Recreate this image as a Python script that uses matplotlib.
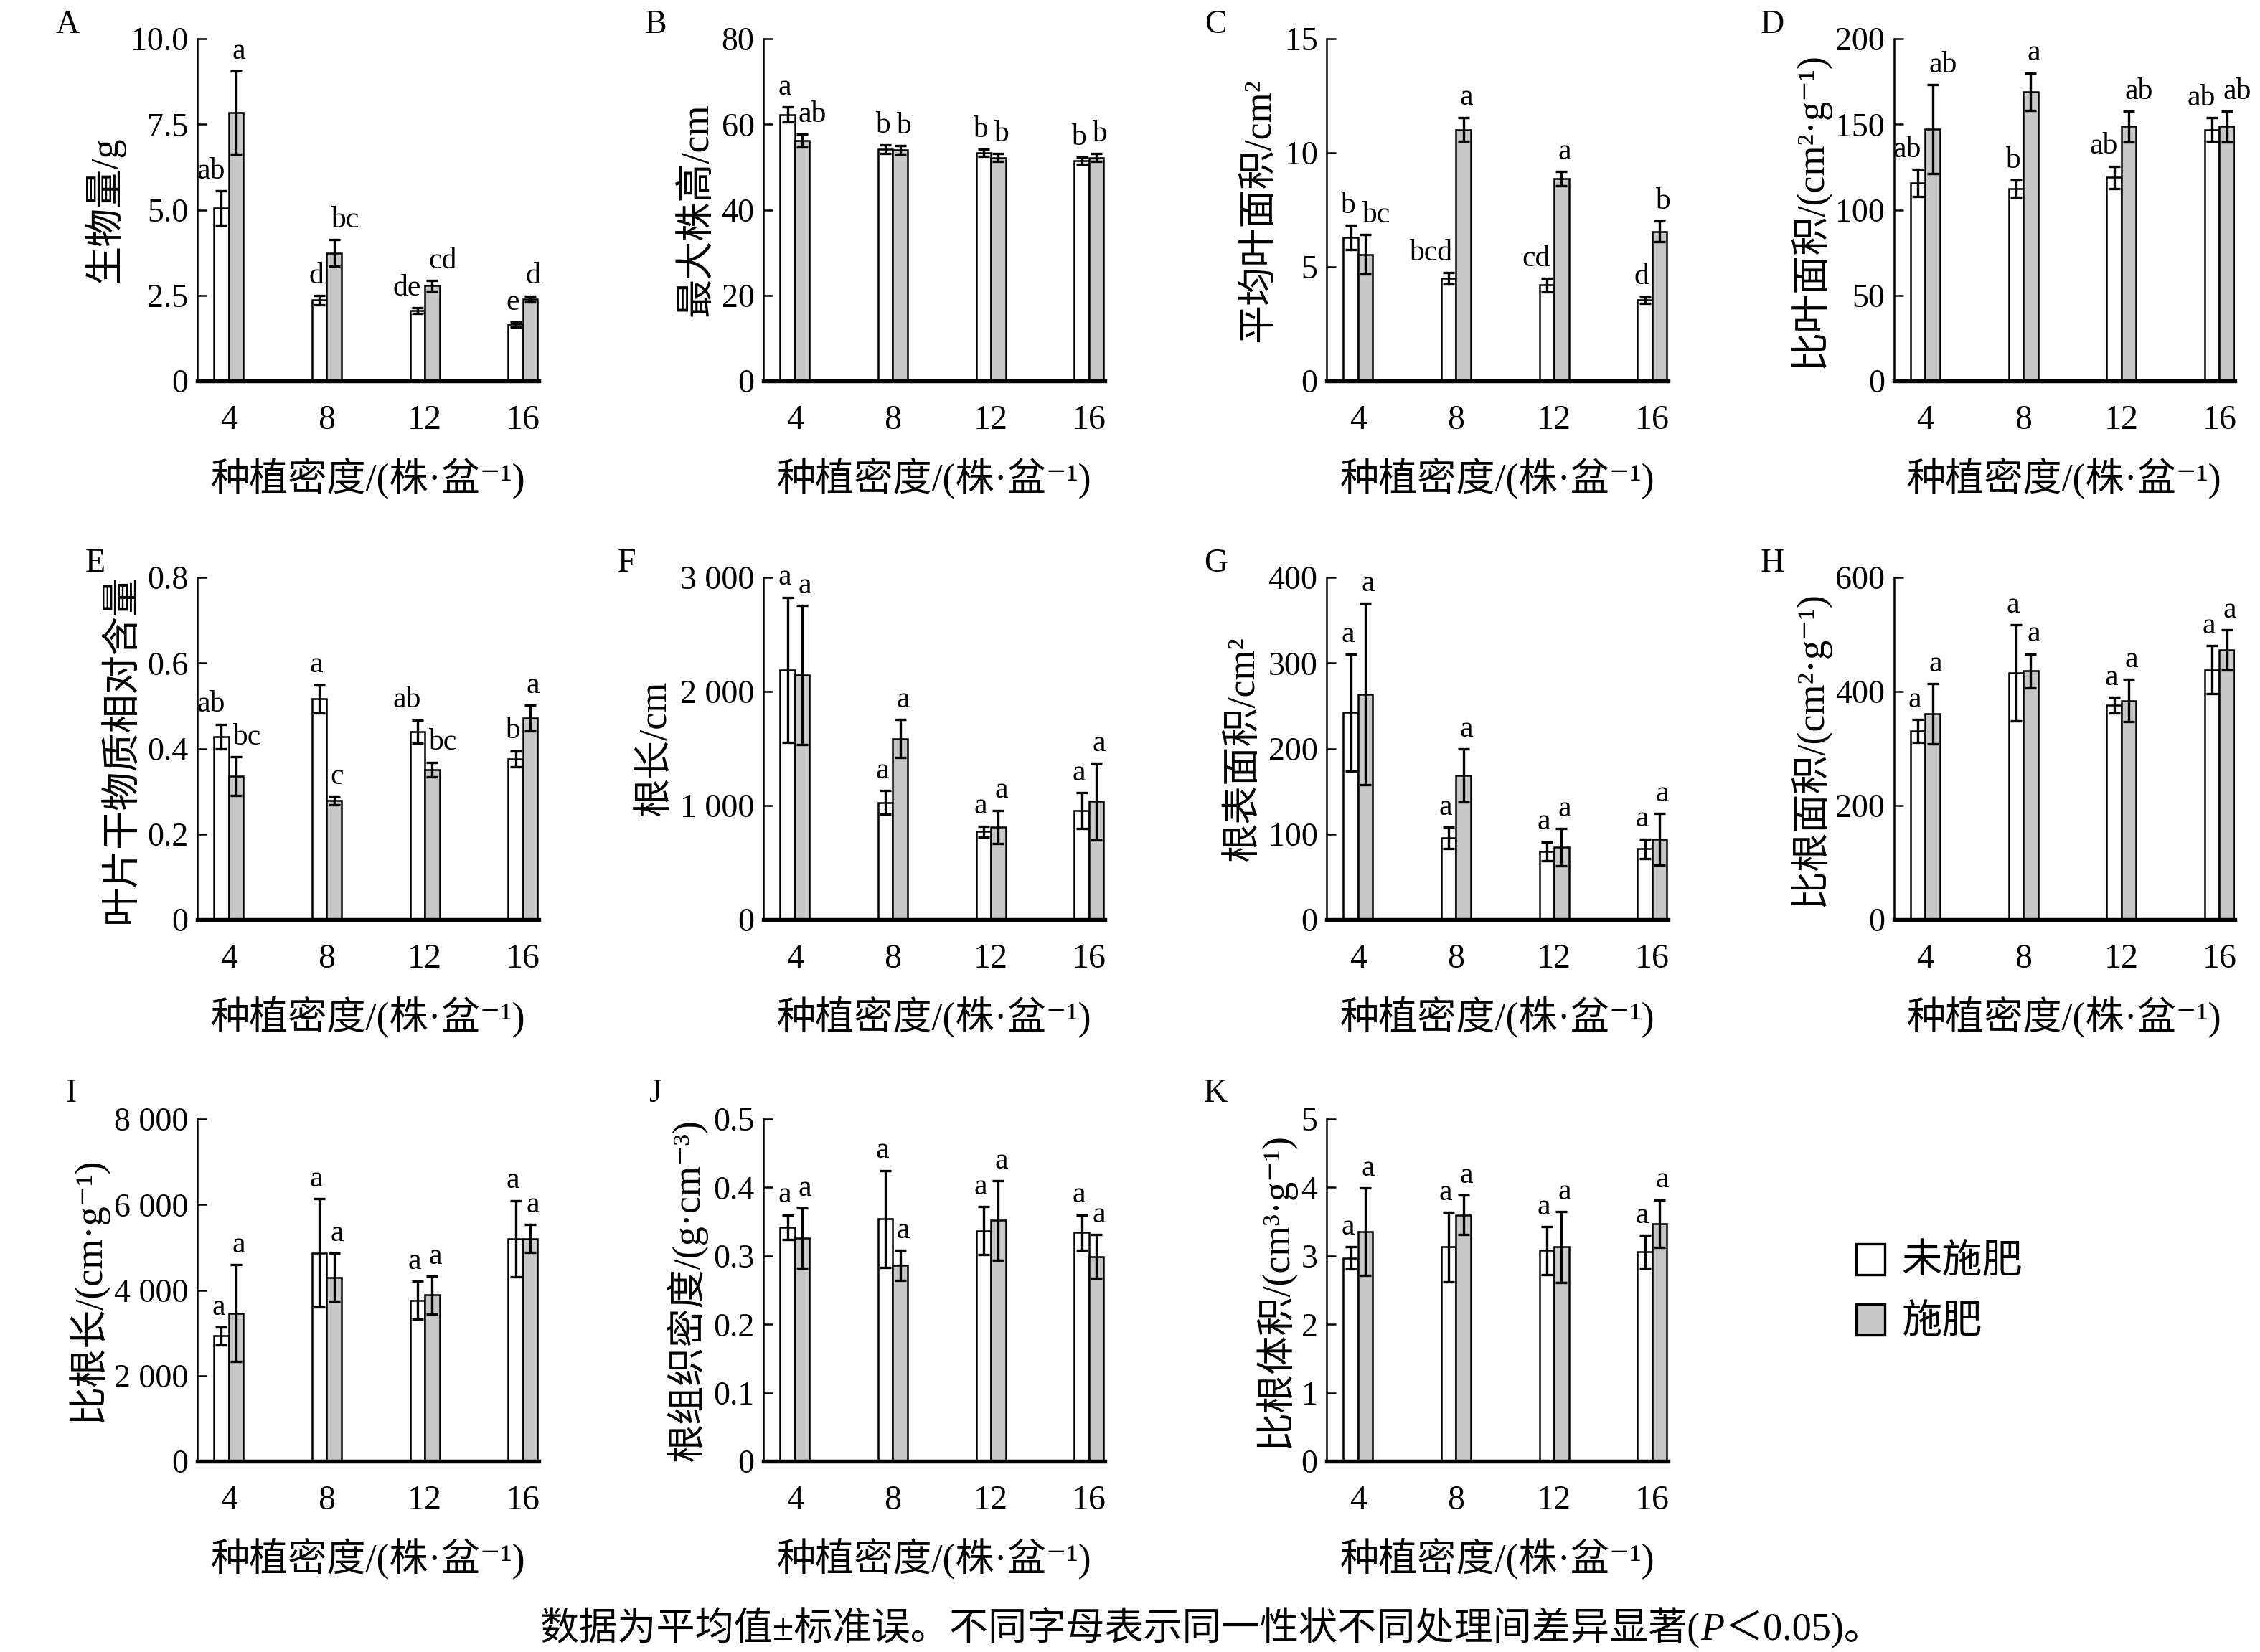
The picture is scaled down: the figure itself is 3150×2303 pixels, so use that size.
import matplotlib
matplotlib.use('Agg')
import matplotlib.pyplot as plt
from matplotlib.patches import Patch
from matplotlib.offsetbox import TextArea, HPacker, AnchoredOffsetbox
import numpy as np

plt.rcParams['font.family'] = ['Liberation Serif', 'Noto Sans CJK SC', 'DejaVu Sans']

# planting density groups
density = ['4', '8', '12', '16']

# A biomass
A_ctrl = [5.05, 2.36, 2.05, 1.65]
A_ctrl_se = [0.50, 0.13, 0.08, 0.07]
A_fert = [7.84, 3.74, 2.78, 2.39]
A_fert_se = [1.22, 0.38, 0.16, 0.09]
A_ctrl_sig = ['ab', 'd', 'de', 'e']
A_fert_sig = ['a', 'bc', 'cd', 'd']

# B max plant height
B_ctrl = [62.3, 54.2, 53.3, 51.5]
B_ctrl_se = [1.7, 1.0, 0.8, 0.8]
B_fert = [56.2, 54.0, 52.2, 52.2]
B_fert_se = [1.5, 1.0, 0.9, 0.9]
B_ctrl_sig = ['a', 'b', 'b', 'b']
B_fert_sig = ['ab', 'b', 'b', 'b']

# C mean leaf area
C_ctrl = [6.3, 4.5, 4.2, 3.54]
C_ctrl_se = [0.53, 0.25, 0.3, 0.15]
C_fert = [5.55, 11.02, 8.86, 6.55]
C_fert_se = [0.87, 0.53, 0.32, 0.45]
C_ctrl_sig = ['b', 'bcd', 'cd', 'd']
C_fert_sig = ['bc', 'a', 'a', 'b']

# D specific leaf area
D_ctrl = [115.8, 112.3, 119.0, 146.9]
D_ctrl_se = [8, 5, 6.5, 7]
D_fert = [147.1, 169.0, 148.7, 148.7]
D_fert_se = [26, 11, 9, 9]
D_ctrl_sig = ['ab', 'b', 'ab', 'ab']
D_fert_sig = ['ab', 'a', 'ab', 'ab']

# E leaf dry matter content
E_ctrl = [0.428, 0.516, 0.44, 0.376]
E_ctrl_se = [0.029, 0.033, 0.027, 0.019]
E_fert = [0.335, 0.278, 0.351, 0.472]
E_fert_se = [0.045, 0.01, 0.017, 0.03]
E_ctrl_sig = ['ab', 'a', 'ab', 'b']
E_fert_sig = ['bc', 'c', 'bc', 'a']

# F root length
F_ctrl = [2190, 1027, 771, 955]
F_ctrl_se = [636, 103, 50, 158]
F_fert = [2143, 1588, 811, 1035]
F_fert_se = [610, 168, 147, 335]
F_ctrl_sig = ['a', 'a', 'a', 'a']
F_fert_sig = ['a', 'a', 'a', 'a']

# G root surface area
G_ctrl = [242, 95.4, 80, 82.7]
G_ctrl_se = [68, 12.5, 11, 11.5]
G_fert = [263.5, 168.5, 84.6, 93.8]
G_fert_se = [106, 31, 22, 30]
G_ctrl_sig = ['a', 'a', 'a', 'a']
G_fert_sig = ['a', 'a', 'a', 'a']

# H specific root area
H_ctrl = [331, 433, 376, 438]
H_ctrl_se = [20, 84, 14, 42]
H_fert = [361, 436, 384, 473]
H_fert_se = [53, 30, 37, 35]
H_ctrl_sig = ['a', 'a', 'a', 'a']
H_fert_sig = ['a', 'a', 'a', 'a']

# I specific root length
I_ctrl = [2930, 4870, 3763, 5204]
I_ctrl_se = [205, 1270, 440, 890]
I_fert = [3460, 4300, 3886, 5204]
I_fert_se = [1130, 560, 440, 330]
I_ctrl_sig = ['a', 'a', 'a', 'a']
I_fert_sig = ['a', 'a', 'a', 'a']

# J root tissue density
J_ctrl = [0.342, 0.354, 0.337, 0.334]
J_ctrl_se = [0.018, 0.071, 0.035, 0.026]
J_fert = [0.326, 0.286, 0.352, 0.299]
J_fert_se = [0.044, 0.022, 0.058, 0.032]
J_ctrl_sig = ['a', 'a', 'a', 'a']
J_fert_sig = ['a', 'a', 'a', 'a']

# K specific root volume
K_ctrl = [2.97, 3.13, 3.08, 3.06]
K_ctrl_se = [0.16, 0.51, 0.35, 0.24]
K_fert = [3.35, 3.60, 3.13, 3.47]
K_fert_se = [0.64, 0.29, 0.52, 0.35]
K_ctrl_sig = ['a', 'a', 'a', 'a']
K_fert_sig = ['a', 'a', 'a', 'a']

ylabels = ['生物量/g', '最大株高/cm', '平均叶面积/cm²', '比叶面积/(cm²·g⁻¹)',
           '叶片干物质相对含量', '根长/cm', '根表面积/cm²', '比根面积/(cm²·g⁻¹)',
           '比根长/(cm·g⁻¹)', '根组织密度/(g·cm⁻³)', '比根体积/(cm³·g⁻¹)']
yticks = [[0, 2.5, 5, 7.5, 10], [0, 20, 40, 60, 80], [0, 5, 10, 15], [0, 50, 100, 150, 200],
          [0, 0.2, 0.4, 0.6, 0.8], [0, 1000, 2000, 3000], [0, 100, 200, 300, 400], [0, 200, 400, 600],
          [0, 2000, 4000, 6000, 8000], [0, 0.1, 0.2, 0.3, 0.4, 0.5], [0, 1, 2, 3, 4, 5]]
ytick_labels = [['0', '2.5', '5.0', '7.5', '10.0'], ['0', '20', '40', '60', '80'], ['0', '5', '10', '15'],
                ['0', '50', '100', '150', '200'], ['0', '0.2', '0.4', '0.6', '0.8'],
                ['0', '1 000', '2 000', '3 000'], ['0', '100', '200', '300', '400'], ['0', '200', '400', '600'],
                ['0', '2 000', '4 000', '6 000', '8 000'], ['0', '0.1', '0.2', '0.3', '0.4', '0.5'],
                ['0', '1', '2', '3', '4', '5']]
letters = ['A', 'B', 'C', 'D', 'E', 'F', 'G', 'H', 'I', 'J', 'K']

panels = [
    (A_ctrl, A_ctrl_se, A_fert, A_fert_se, A_ctrl_sig, A_fert_sig),
    (B_ctrl, B_ctrl_se, B_fert, B_fert_se, B_ctrl_sig, B_fert_sig),
    (C_ctrl, C_ctrl_se, C_fert, C_fert_se, C_ctrl_sig, C_fert_sig),
    (D_ctrl, D_ctrl_se, D_fert, D_fert_se, D_ctrl_sig, D_fert_sig),
    (E_ctrl, E_ctrl_se, E_fert, E_fert_se, E_ctrl_sig, E_fert_sig),
    (F_ctrl, F_ctrl_se, F_fert, F_fert_se, F_ctrl_sig, F_fert_sig),
    (G_ctrl, G_ctrl_se, G_fert, G_fert_se, G_ctrl_sig, G_fert_sig),
    (H_ctrl, H_ctrl_se, H_fert, H_fert_se, H_ctrl_sig, H_fert_sig),
    (I_ctrl, I_ctrl_se, I_fert, I_fert_se, I_ctrl_sig, I_fert_sig),
    (J_ctrl, J_ctrl_se, J_fert, J_fert_se, J_ctrl_sig, J_fert_sig),
    (K_ctrl, K_ctrl_se, K_fert, K_fert_se, K_ctrl_sig, K_fert_sig),
]

gray = '#c8c8c8'
fig = plt.figure(figsize=(10.5, 7.677), dpi=300)

col_left = [0.0873, 0.3378, 0.587, 0.838]
row_bottom = [0.7694, 0.4433, 0.1155]
ax_w, ax_h = 0.151, 0.2071
letter_x = [-0.38, -0.315, -0.325, -0.357, -0.30, -0.40, -0.325, -0.357, -0.37, -0.315, -0.325]
letter_y = [1.04, 1.04, 1.04, 1.04, 1.04, 1.04, 1.04, 1.04, 1.075, 1.075, 1.075]

x = np.arange(len(density))
w = 0.15

for i, (c, cse, f, fse, csig, fsig) in enumerate(panels):
    r, col = divmod(i, 4)
    ax = fig.add_axes([col_left[col], row_bottom[r], ax_w, ax_h])
    ax.bar(x - w / 2, c, w, color='white', edgecolor='black', linewidth=0.6, zorder=2)
    ax.bar(x + w / 2, f, w, color=gray, edgecolor='black', linewidth=0.6, zorder=2)
    ax.errorbar(x - w / 2, c, yerr=cse, fmt='none', ecolor='black', elinewidth=0.8,
                capsize=2, capthick=0.8, zorder=3)
    ax.errorbar(x + w / 2, f, yerr=fse, fmt='none', ecolor='black', elinewidth=0.8,
                capsize=2, capthick=0.8, zorder=3)
    for j in range(len(density)):
        # push longer letter groups outward so neighbours don't collide
        dc = -1.0 - 2.5 * (len(csig[j]) - 1)
        df = 1.0 + 2.5 * (len(fsig[j]) - 1)
        ax.annotate(csig[j], (x[j] - w / 2, c[j] + cse[j]), xytext=(dc, 2), textcoords='offset points',
                    ha='center', va='bottom', fontsize=10, fontfamily='Liberation Serif')
        ax.annotate(fsig[j], (x[j] + w / 2, f[j] + fse[j]), xytext=(df, 2), textcoords='offset points',
                    ha='center', va='bottom', fontsize=10, fontfamily='Liberation Serif')
    ax.set_xlim(-0.32, 3.16)
    ax.set_ylim(0, yticks[i][-1])
    ax.set_yticks(yticks[i])
    ax.set_yticklabels(ytick_labels[i])
    ax.set_xticks(x)
    ax.set_xticklabels(density)
    ax.tick_params(axis='y', direction='in', length=3, width=0.6, labelsize=11, pad=3)
    ax.tick_params(axis='x', length=0, labelsize=11.5, pad=8)
    for s in ['top', 'right']:
        ax.spines[s].set_visible(False)
    ax.spines['left'].set_linewidth(0.6)
    ax.spines['bottom'].set_linewidth(1.3)
    ax.spines['bottom'].set_zorder(4)
    ax.set_ylabel(ylabels[i], fontsize=13, labelpad=2)
    ax.set_xlabel('种植密度/(株·盆⁻¹)', fontsize=13, labelpad=7)
    ax.text(letter_x[i], letter_y[i], letters[i], transform=ax.transAxes, fontsize=11,
            ha='center', va='center', fontfamily='Liberation Serif')

handles = [Patch(facecolor='white', edgecolor='black', linewidth=0.8),
           Patch(facecolor=gray, edgecolor='black', linewidth=0.8)]
fig.legend(handles, ['未施肥', '施肥'], loc='upper left', bbox_to_anchor=(0.8212, 0.2472),
           frameon=False, fontsize=13.5, handlelength=0.72, handleheight=0.8,
           handletextpad=0.4, labelspacing=0.55, borderpad=0, borderaxespad=0)

# footnote with italic P
parts = [TextArea('数据为平均值±标准误。不同字母表示同一性状不同处理间差异显著(',
                  textprops=dict(fontsize=13)),
         TextArea('P', textprops=dict(fontsize=13, style='italic', fontfamily='Liberation Serif')),
         TextArea('＜0.05)。', textprops=dict(fontsize=13))]
box = HPacker(children=parts, align='baseline', pad=0, sep=0)
anchored = AnchoredOffsetbox(loc='center', child=box, pad=0, borderpad=0, frameon=False,
                             bbox_to_anchor=(0.536, 0.0148), bbox_transform=fig.transFigure)
fig.add_artist(anchored)

fig.savefig('out.png', dpi=300)
